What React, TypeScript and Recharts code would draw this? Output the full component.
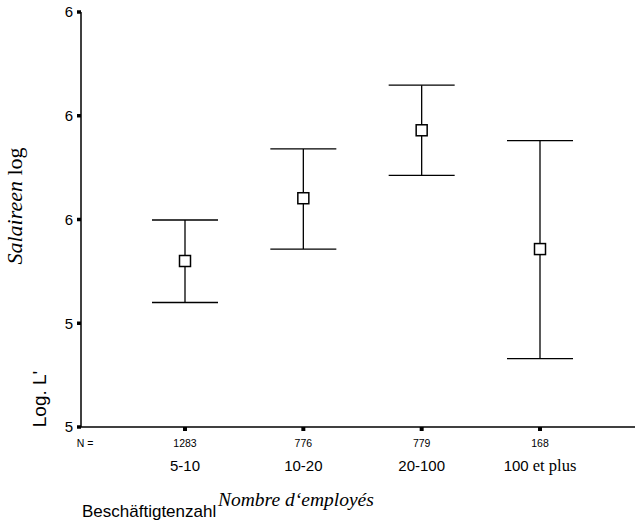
import { ComposedChart, ErrorBar, Line, XAxis, YAxis } from "recharts";

const SANS = "'Liberation Sans', Arial, sans-serif";
const SERIF = "'Liberation Serif', 'Times New Roman', serif";

const categories = ["5-10", "10-20", "20-100", "100 et plus"];
const counts = [1283, 776, 779, 168];
const means = [5.52, 5.641, 5.772, 5.543];
const lower = [5.44, 5.543, 5.685, 5.332];
const upper = [5.599, 5.736, 5.859, 5.752];
const yTicks = [5.2, 5.4, 5.6, 5.8, 6.0];

const data = categories.map((cat, i) => ({
  cat,
  mean: means[i],
  err: [means[i] - lower[i], upper[i] - means[i]],
}));

function CategoryTick(props: any) {
  const { x, y, payload } = props;
  const i = categories.indexOf(payload.value);
  const [first, ...rest] = String(payload.value).split(" ");
  return (
    <g>
      <text x={x} y={y + 16} textAnchor="middle" fontSize={10.5} fontFamily={SANS} fill="#000">
        {counts[i]}
      </text>
      <text x={x} y={y + 40} textAnchor="middle" fontSize={15} fontFamily={SANS} fill="#000">
        <tspan>{first}</tspan>
        {rest.length > 0 && <tspan fontFamily={SERIF} fontSize={16.5}>{" " + rest.join(" ")}</tspan>}
      </text>
    </g>
  );
}

function SquareDot(props: any) {
  const { cx, cy, index } = props;
  return (
    <rect key={index} x={cx - 5.5} y={cy - 5.5} width={11} height={11} fill="#fff" stroke="#000" strokeWidth={1.5} />
  );
}

const xTitles = () => (
  <g>
    <text x={85} y={447} textAnchor="middle" fontSize={10.5} fontFamily={SANS} fill="#000">
      N =
    </text>
    <text x={82} y={517} fontSize={17} fontFamily={SANS} fill="#000">
      Beschäftigtenzahl
    </text>
    <text x={218} y={506} fontSize={19.5} fontStyle="italic" fontFamily={SERIF} fill="#000">
      Nombre d‘employés
    </text>
  </g>
);

const yTitles = () => (
  <g>
    <text x={46} y={399} transform="rotate(-90 46 399)" textAnchor="middle" fontSize={19} fontFamily={SANS} fill="#000">
      Log. L'
    </text>
    <text x={22} y={206} transform="rotate(-90 22 206)" textAnchor="middle" fontSize={22} fontFamily={SERIF} fill="#000">
      <tspan fontStyle="italic">Salaireen</tspan>
      <tspan> log</tspan>
    </text>
  </g>
);

export default function App() {
  return (
    <div style={{ position: "absolute", left: 0, top: 0, width: 635, height: 523, background: "#fff" }}>
      <ComposedChart width={635} height={523} data={data} margin={{ top: 12, right: 0, bottom: 0, left: 0 }}>
        <XAxis
          xAxisId="top"
          orientation="top"
          dataKey="cat"
          height={0}
          tick={false}
          tickLine={false}
          axisLine={{ stroke: "#000", strokeWidth: 1.5 }}
        />
        <XAxis
          dataKey="cat"
          height={96}
          padding={{ left: 104, right: 95 }}
          tickSize={4}
          tickMargin={0}
          interval={0}
          tick={<CategoryTick />}
          tickLine={{ stroke: "#000", strokeWidth: 4 }}
          axisLine={{ stroke: "#000", strokeWidth: 1.5 }}
          label={{ content: xTitles }}
        />
        <YAxis
          type="number"
          domain={[5.2, 6.0]}
          ticks={yTicks}
          interval={0}
          width={81}
          tickSize={4}
          tickMargin={4}
          tickFormatter={(v: number) => String(Math.round(v))}
          tick={{ fontSize: 15, fill: "#000", fontFamily: SANS }}
          tickLine={{ stroke: "#000", strokeWidth: 3.5 }}
          axisLine={{ stroke: "#000", strokeWidth: 1.5 }}
          label={{ content: yTitles }}
        />
        <Line dataKey="mean" stroke="none" dot={false} activeDot={false} isAnimationActive={false}>
          <ErrorBar dataKey="err" direction="y" width={33} stroke="#000" strokeWidth={1.3} />
        </Line>
        <Line dataKey="mean" stroke="none" dot={<SquareDot />} activeDot={false} isAnimationActive={false} />
      </ComposedChart>
    </div>
  );
}
